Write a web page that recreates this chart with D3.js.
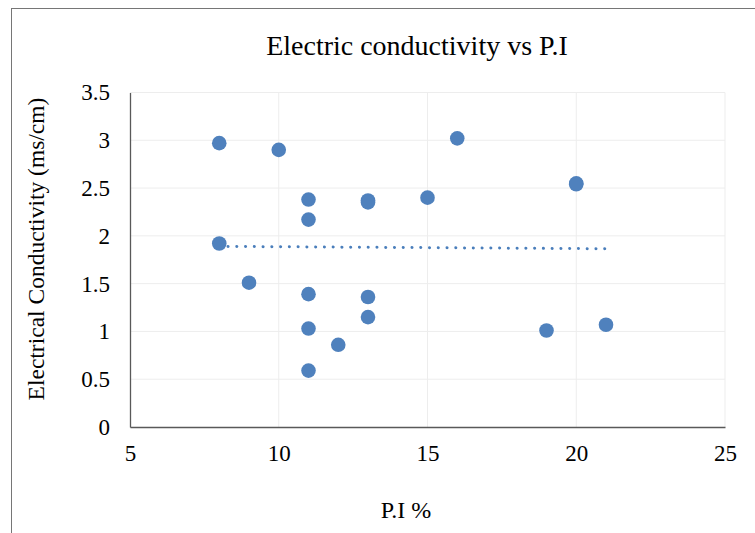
<!DOCTYPE html>
<html><head><meta charset="utf-8">
<script src="https://cdn.jsdelivr.net/npm/d3@7"></script>
<style>body{margin:0;background:#fff}svg{display:block}</style>
</head><body>
<script>
const piValues = [8,10,11,11,13,13,15,8,9,11,13,13,11,12,11,16,20,20,19,21];
const ecValues = [2.97,2.9,2.38,2.17,2.37,2.35,2.4,1.92,1.51,1.39,1.36,1.15,1.03,0.86,0.59,3.02,2.55,2.54,1.01,1.07];
const trendX = [8,21];
const trendY = [1.89,1.865];
const xTicks = [5,10,15,20,25];
const yTicks = [0,0.5,1,1.5,2,2.5,3,3.5];

const W=755,H=533;
const svg=d3.select("body").append("svg").attr("width",W).attr("height",H);
const font="'Liberation Serif','Times New Roman',serif";
svg.append("rect").attr("x",11.5).attr("y",8.5).attr("width",W+20).attr("height",H+20)
  .attr("fill","#fff").attr("stroke","#767676").attr("stroke-width",1);

const x=d3.scaleLinear().domain([5,25]).range([130,725]);
const y=d3.scaleLinear().domain([0,3.5]).range([427,92.5]);

const g=svg.append("g");
g.selectAll(".gx").data(xTicks.slice(1)).join("line")
  .attr("x1",d=>x(d)).attr("x2",d=>x(d)).attr("y1",y(0)).attr("y2",y(3.5))
  .attr("stroke","#ededed").attr("stroke-width",1);
g.selectAll(".gy").data(yTicks.slice(1)).join("line")
  .attr("x1",x(5)).attr("x2",x(25)).attr("y1",d=>y(d)).attr("y2",d=>y(d))
  .attr("stroke","#ededed").attr("stroke-width",1);

const xa=svg.append("g").attr("transform",`translate(0,${y(0)})`)
  .call(d3.axisBottom(x).tickValues(xTicks).tickSize(0).tickPadding(18).tickFormat(d3.format("d")));
xa.select(".domain").attr("stroke","#595959").attr("stroke-width",1.3);
xa.selectAll("text").attr("font-family",font).attr("font-size",23).attr("fill","#000");
const ya=svg.append("g").attr("transform",`translate(${x(5)},0)`)
  .call(d3.axisLeft(y).tickValues(yTicks).tickSize(0).tickPadding(20).tickFormat(d=>String(d)));
ya.select(".domain").attr("stroke","#595959").attr("stroke-width",1.3);
ya.selectAll("text").attr("font-family",font).attr("font-size",23).attr("fill","#000");

svg.append("path").datum(trendX.map((d,i)=>[d,trendY[i]]))
  .attr("d",d3.line().x(d=>x(d[0])).y(d=>y(d[1])))
  .attr("fill","none").attr("stroke","#4a7ebb").attr("stroke-width",3)
  .attr("stroke-linecap","round").attr("stroke-dasharray","0.1 8.66");

svg.selectAll(".pt").data(piValues.map((d,i)=>[d,ecValues[i]])).join("circle")
  .attr("cx",d=>x(d[0])).attr("cy",d=>y(d[1])).attr("r",7.3)
  .attr("fill","#4f81bd");

svg.append("text").attr("x",417).attr("y",55).attr("text-anchor","middle")
  .attr("font-family",font).attr("font-size",28).text("Electric conductivity vs P.I");
svg.append("text").attr("transform","translate(44,249) rotate(-90)").attr("text-anchor","middle")
  .attr("font-family",font).attr("font-size",23.5).text("Electrical Conductivity (ms/cm)");
svg.append("text").attr("x",406).attr("y",518).attr("text-anchor","middle")
  .attr("font-family",font).attr("font-size",24).text("P.I %");
</script>
</body></html>
